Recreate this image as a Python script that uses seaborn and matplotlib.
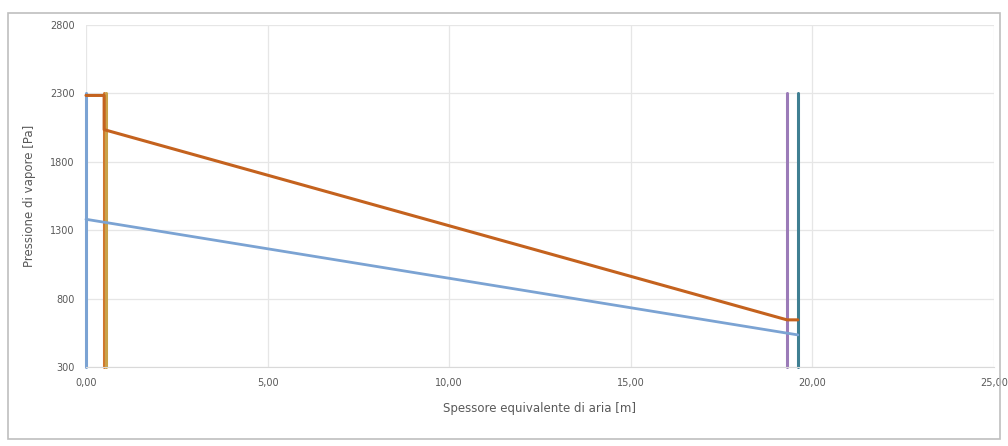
import pandas as pd
import seaborn as sns
import matplotlib.pyplot as plt
from matplotlib.patches import Rectangle
from matplotlib.ticker import FuncFormatter

# Saturation pressure profile (orange)
x_sat = [0.0, 0.5, 0.5, 19.3, 19.6]
p_sat = [2285, 2285, 2035, 645, 645]

# Partial vapour pressure profile (blue)
x_par = [0.0, 19.6]
p_par = [1380, 535]

# Layer boundaries (vertical lines)
bound_x = [0.0, 0.5, 0.56, 19.3, 19.6]
bound_colors = ["#7BA3D3", "#D0782E", "#C9A24A", "#9B7BB8", "#3F7F92"]
bound_low, bound_high = 300, 2300

sns.set_style("whitegrid")
fig = plt.figure(figsize=(10.08, 4.46), dpi=100)
ax = fig.add_axes([0.0853, 0.177, 0.9008, 0.767])

for bx, c in zip(bound_x, bound_colors):
    sns.lineplot(x=[bx, bx], y=[bound_low, bound_high], color=c, linewidth=2.2,
                 ax=ax, estimator=None, sort=False, clip_on=False)

sns.lineplot(x=x_par, y=p_par, color="#7BA3D3", linewidth=2.0, ax=ax,
             estimator=None, sort=False, clip_on=False)
sns.lineplot(x=x_sat, y=p_sat, color="#C4621E", linewidth=2.2, ax=ax,
             estimator=None, sort=False, clip_on=False)

ax.set_xlim(0, 25)
ax.set_ylim(300, 2800)
ax.set_xticks([0, 5, 10, 15, 20, 25])
ax.set_yticks([300, 800, 1300, 1800, 2300, 2800])
ax.xaxis.set_major_formatter(FuncFormatter(lambda v, p: f"{v:.2f}".replace(".", ",")))
ax.grid(color="#E6E6E6", linewidth=0.9)
for s in ["top", "right", "left"]:
    ax.spines[s].set_visible(False)
ax.spines["bottom"].set_color("#D9D9D9")
ax.tick_params(axis="both", labelsize=7, colors="#595959", length=0, pad=8)

ax.set_xlabel("Spessore equivalente di aria [m]", fontsize=8.5, color="#595959", labelpad=10)
ax.set_ylabel("Pressione di vapore [Pa]", fontsize=8.5, color="#595959", labelpad=10)

fig.patches.append(Rectangle((0.008, 0.015), 0.984, 0.955, transform=fig.transFigure,
                             fill=False, edgecolor="#BFBFBF", linewidth=1.2))

fig.savefig("out.png", dpi=100)
